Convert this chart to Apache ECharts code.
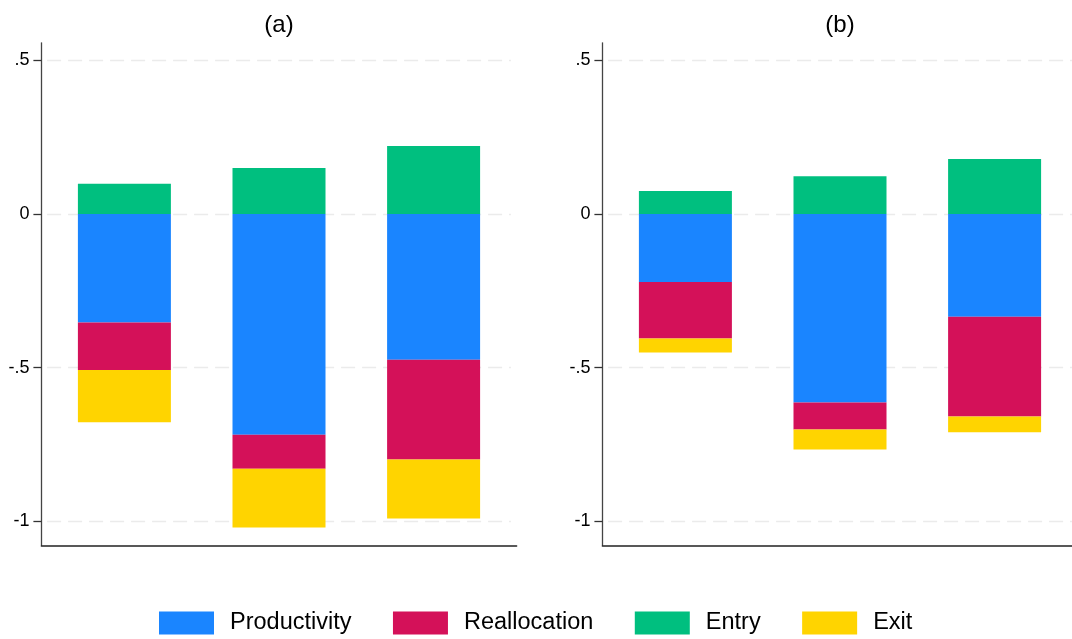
<!DOCTYPE html>
<html>
<head>
<meta charset="utf-8">
<script src="https://cdn.jsdelivr.net/npm/echarts@6/dist/echarts.min.js"></script>
<style>
  html, body { margin: 0; padding: 0; background: #fff; }
  #chart { width: 1072px; height: 639px; }
</style>
</head>
<body>
<div id="chart"></div>
<script>
// Decomposition components per group, panel (a) and panel (b)
const groups = ['1', '2', '3'];
const panelTitles = ['(a)', '(b)'];
const seriesNames = ['Productivity', 'Reallocation', 'Entry', 'Exit'];

const productivityA = [-0.353, -0.718, -0.474];
const reallocationA = [-0.155, -0.111, -0.325];
const entryA        = [0.098, 0.150, 0.221];
const exitA         = [-0.170, -0.191, -0.192];

const productivityB = [-0.221, -0.613, -0.334];
const reallocationB = [-0.184, -0.088, -0.325];
const entryB        = [0.075, 0.123, 0.179];
const exitB         = [-0.046, -0.065, -0.051];

const yTicks = [-1, -0.5, 0, 0.5];
const yTickLabels = ['-1', '-.5', '0', '.5'];

const colors = ['#1a85ff', '#d41159', '#00bf7f', '#ffd400'];
const FONT = '"Liberation Sans", Arial, Helvetica, sans-serif';

const panels = [
  [productivityA, reallocationA, entryA, exitA],
  [productivityB, reallocationB, entryB, exitB]
];

const Y_MIN = -1.078, Y_MAX = 0.557;

// Frame grids (axis lines, ticks, labels) and inner grids holding the bars and grid lines
const gridLefts = [41.4, 602.4];
const gridW = 475.2;
const gridTop = 42.8;
const gridH = 502.5;
const barInset = 5.7;

const grids = [];
const xAxes = [];
const yAxes = [];

gridLefts.forEach((l) => {
  grids.push({ left: l, top: gridTop, width: gridW, height: gridH });
  xAxes.push({
    type: 'value', gridIndex: grids.length - 1, min: 0, max: 1,
    axisLine: { show: true, onZero: false, lineStyle: { color: '#222', width: 1.5 } },
    axisTick: { show: false }, axisLabel: { show: false }, splitLine: { show: false }
  });
  yAxes.push({
    type: 'value', gridIndex: grids.length - 1, min: Y_MIN, max: Y_MAX,
    axisLine: { show: true, onZero: false, lineStyle: { color: '#444', width: 1.3 } },
    axisTick: { show: true, length: 8, customValues: yTicks, lineStyle: { color: '#333', width: 1.3 } },
    axisLabel: {
      customValues: yTicks, margin: 12, color: '#000', fontFamily: FONT, fontSize: 18,
      formatter: v => yTickLabels[yTicks.indexOf(Math.round(v * 10) / 10)]
    },
    splitLine: { show: false }
  });
});

gridLefts.forEach((l) => {
  grids.push({ left: l + barInset, top: gridTop, width: gridW - 2 * barInset, height: gridH });
  xAxes.push({
    type: 'category', gridIndex: grids.length - 1, data: groups, boundaryGap: true,
    show: false
  });
  yAxes.push({
    type: 'value', gridIndex: grids.length - 1, min: Y_MIN, max: Y_MAX,
    axisLine: { show: false }, axisLabel: { show: false },
    axisTick: { show: false, customValues: yTicks },
    splitLine: { show: true, lineStyle: { color: '#ebebeb', width: 1.3, type: [14, 7] } }
  });
});

const series = [];
panels.forEach((vals, p) => {
  vals.forEach((arr, k) => {
    series.push({
      name: seriesNames[k], type: 'bar', stack: 'panel' + p,
      xAxisIndex: 2 + p, yAxisIndex: 2 + p, barWidth: 93,
      itemStyle: { color: colors[k] },
      data: arr
    });
  });
});

const titles = panelTitles.map((t, i) => ({
  text: t, left: gridLefts[i] + gridW / 2, top: 13, textAlign: 'center', padding: 0,
  textStyle: { fontFamily: FONT, fontSize: 24, fontWeight: 'normal', color: '#000' }
}));

const option = {
  animation: false,
  backgroundColor: '#fff',
  color: colors,
  title: titles,
  grid: grids,
  xAxis: xAxes,
  yAxis: yAxes,
  legend: {
    data: seriesNames, left: 159, top: 611, padding: 0,
    itemWidth: 55, itemHeight: 23, itemGap: 41.5,
    icon: 'rect',
    textStyle: { fontFamily: FONT, fontSize: 23.5, color: '#000', padding: [9, 0, 0, 11] }
  },
  series: series
};

const chart = echarts.init(document.getElementById('chart'), null, { renderer: 'canvas' });
chart.setOption(option);
</script>
</body>
</html>
